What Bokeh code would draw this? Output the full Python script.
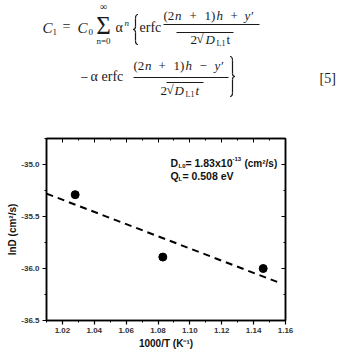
from bokeh.plotting import figure
from bokeh.models import Range1d, LinearAxis, FixedTicker, NumeralTickFormatter, Label
from bokeh.core.properties import value
from bokeh.embed import file_html
from bokeh.resources import INLINE

# ---- data ----
inv_T = [1.028, 1.083, 1.146]          # 1000/T (K^-1)
lnD = [-35.29, -35.89, -36.00]         # lnD (cm^2/s)
fit_x = [1.01, 1.155]
fit_y = [-35.28, -36.13]
x_ticks = [1.02, 1.04, 1.06, 1.08, 1.10, 1.12, 1.14, 1.16]
y_ticks = [-36.5, -36.0, -35.5, -35.0]

SERIF = "Liberation Serif"
SANS = "Liberation Sans"
INK = "#1a1a1a"

# ---- equation panel (pixel coordinates) ----
eq = figure(frame_width=339, frame_height=128, output_backend="svg", toolbar_location=None,
            title=None, x_range=Range1d(0, 339), y_range=Range1d(128, 0),
            x_axis_type=None, y_axis_type=None,
            min_border=0, outline_line_color=None)
eq.grid.visible = False

def t(x, y, s, size=14, italic=False, align="left"):
    eq.text(x=[x], y=[y], text=[s], text_font=value(SERIF),
            text_font_size=f"{size}px", text_font_style="italic" if italic else "normal",
            text_align=align, text_baseline="middle", text_color=INK)

# line 1
t(42, 27, "C", 15, True)
t(52, 31, "1", 9)
t(62, 26, "=", 14)
t(77, 27, "C", 15, True)
t(88, 31, "0", 9)
t(103, 25, "Σ", 25, align="center")
t(103, 6, "∞", 10, align="center")
t(103, 40, "n=0", 9, align="center")
t(115, 27, "α", 14)
t(124, 22, "n", 9, True)
t(139, 27, "erfc", 14)
t(163, 15, "(2", 13); t(174.5, 15, "n", 13, True); t(189, 15, "+", 13)
t(204, 15, "1)", 13); t(216, 15, "h", 13, True); t(230, 15, "+", 13)
t(244, 15, "y′", 13, True)
t(190, 39, "2", 13); t(196, 38, "√", 13)
t(205, 39, "D", 13, True); t(216, 43, "L1", 8); t(226, 39, "t", 13)
# line 2
t(80, 76, "−", 14)
t(90, 76, "α", 14)
t(101, 76, "erfc", 14)
t(133, 65, "(2", 13); t(144.5, 65, "n", 13, True); t(158, 65, "+", 13)
t(173, 65, "1)", 13); t(185, 65, "h", 13, True); t(199, 65, "−", 13)
t(214, 65, "y′", 13, True)
t(160, 90, "2", 13); t(166, 89, "√", 13)
t(174, 90, "D", 13, True); t(185, 94, "L1", 8); t(195, 90, "t", 13, True)
t(319, 78, "[5]", 14)

# fraction bars and radical overbars
eq.segment(x0=[163, 176, 133, 166], y0=[24, 32, 77, 82],
           x1=[259, 233, 228, 203], y1=[24, 32, 77, 82],
           line_color=INK, line_width=1)

# curly braces drawn as curves
def brace(xc, top, bot, d, w):
    mid = (top + bot) / 2
    x0s, y0s, x1s, y1s, cxs, cys = [], [], [], [], [], []
    segs = [((xc + d * w, top), (xc, top + 4), (xc, top)),
            ((xc, mid - 3), (xc - d * w, mid), (xc, mid)),
            ((xc - d * w, mid), (xc, mid + 3), (xc, mid)),
            ((xc, bot - 4), (xc + d * w, bot), (xc, bot))]
    for (a, b, c) in segs:
        x0s.append(a[0]); y0s.append(a[1]); x1s.append(b[0]); y1s.append(b[1])
        cxs.append(c[0]); cys.append(c[1])
    eq.quadratic(x0=x0s, y0=y0s, x1=x1s, y1=y1s, cx=cxs, cy=cys, line_color=INK, line_width=1.2)
    eq.segment(x0=[xc, xc], y0=[top + 4, mid + 3], x1=[xc, xc], y1=[mid - 3, bot - 4],
               line_color=INK, line_width=1.2)

brace(135, 14, 44, 1, 2.5)
brace(232, 56, 96, -1, 2.5)

# ---- chart ----
p = figure(width=339, height=228, output_backend="svg", toolbar_location=None,
           x_range=Range1d(1.01, 1.16), y_range=Range1d(-36.5, -34.75),
           min_border_left=46, min_border_right=54, min_border_top=10, min_border_bottom=36)
p.grid.visible = False
p.outline_line_color = "black"
p.outline_line_width = 1.5

x_minor = [1.01 + 0.01 * i for i in range(16)]
y_minor = [-36.5 + 0.25 * i for i in range(8)]
for ax in p.xaxis:
    ax.ticker = FixedTicker(ticks=x_ticks, minor_ticks=x_minor)
    ax.formatter = NumeralTickFormatter(format="0.00")
    ax.axis_label = "1000/T (K⁻¹)"
    ax.axis_label_standoff = 2
for ax in p.yaxis:
    ax.ticker = FixedTicker(ticks=y_ticks, minor_ticks=y_minor)
    ax.formatter = NumeralTickFormatter(format="0.0")
    ax.axis_label = "lnD (cm²/s)"
    ax.axis_label_standoff = 0
for ax in p.axis:
    ax.axis_line_width = 1.5
    ax.major_tick_line_width = 1.2
    ax.minor_tick_line_width = 1
    ax.major_tick_out = 4
    ax.major_tick_in = 0
    ax.minor_tick_out = 2
    ax.minor_tick_in = 0
    ax.major_label_text_font = SANS
    ax.major_label_text_font_style = "bold"
    ax.major_label_text_font_size = "8px"
    ax.major_label_text_color = "#333333"
    ax.axis_label_text_font = SANS
    ax.axis_label_text_font_style = "bold"
    ax.axis_label_text_font_size = "10px"
    ax.axis_label_text_color = "#111111"
    ax.major_label_standoff = 3

right = LinearAxis(ticker=FixedTicker(ticks=y_ticks, minor_ticks=y_minor),
                   major_label_overrides={v: "" for v in y_ticks},
                   major_tick_in=4, major_tick_out=0,
                   minor_tick_in=2, minor_tick_out=0, axis_line_width=1.5)
top = LinearAxis(ticker=FixedTicker(ticks=x_ticks, minor_ticks=x_minor),
                 major_label_overrides={v: "" for v in x_ticks},
                 major_tick_in=4, major_tick_out=0,
                 minor_tick_in=2, minor_tick_out=0, axis_line_width=1.5)
p.add_layout(right, "right")
p.add_layout(top, "above")

p.line(fit_x, fit_y, line_color="black", line_width=2, line_dash="7 5")
p.scatter(inv_T, lnD, size=8, color="black")

ax0, ay0 = 1.0878, -34.99
def lab(text, dx, dy, size):
    p.add_layout(Label(x=ax0, y=ay0, x_offset=dx, y_offset=dy, text=text,
                       text_font=SANS, text_font_style="bold", text_font_size=f"{size}px",
                       text_baseline="middle", text_color="#111111"))
lab("D", 0, 0, 10.5)
lab("L0", 8, -3, 6)
lab("= 1.83x10", 15, 0, 10.5)
lab("-13", 62, 4, 6)
lab("(cm²/s)", 74, 0, 10)
lab("Q", 0, -13, 10.5)
lab("L", 8, -16, 6)
lab("= 0.508 eV", 12, -13, 10.5)

# two independent roots, stacked: the equation above the chart
open("out.html", "w").write(file_html([eq, p], INLINE))
